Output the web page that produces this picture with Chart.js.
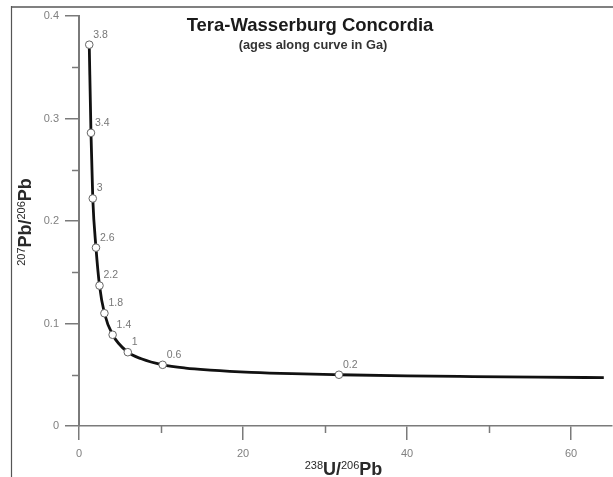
<!DOCTYPE html>
<html>
<head>
<meta charset="utf-8">
<script src="https://cdn.jsdelivr.net/npm/chart.js@4/dist/chart.umd.min.js"></script>
<style>
  html, body { margin: 0; padding: 0; background: #fff; }
  #wrap { width: 613px; height: 477px; position: relative; }
</style>
</head>
<body>
<div id="wrap"><canvas id="c" width="613" height="477"></canvas></div>
<script>
// ---- Data ----
const chartTitle = 'Tera-Wasserburg Concordia';
const chartSubtitle = '(ages along curve in Ga)';

// concordia curve (238U/206Pb, 207Pb/206Pb)
const curveX = [1.25, 1.46, 1.68, 2.07, 2.50, 3.10, 4.10, 5.95, 7.6, 10.2, 13.0, 16.0, 21.0, 26.0, 31.7, 40.0, 48.0, 56.0, 64.0];
const curveY = [0.372, 0.286, 0.222, 0.174, 0.137, 0.110, 0.089, 0.0720, 0.0656, 0.0597, 0.0565, 0.0546, 0.0524, 0.0510, 0.0500, 0.0489, 0.0482, 0.0476, 0.0472];

// age markers along the curve
const ageLabels = ['3.8', '3.4', '3', '2.6', '2.2', '1.8', '1.4', '1', '0.6', '0.2'];
const ageX = [1.25, 1.46, 1.68, 2.07, 2.50, 3.10, 4.10, 5.95, 10.2, 31.7];
const ageY = [0.372, 0.286, 0.222, 0.174, 0.137, 0.110, 0.089, 0.0720, 0.0597, 0.0500];

// axes
const xMin = 0, xMax = 65, xStep = 20, xMinorTicks = [10, 30, 50];
const yMin = 0, yMax = 0.4, yStep = 0.1, yMinorTicks = [0.05, 0.15, 0.25, 0.35];
const xTitleParts = [['238', true], ['U/', false], ['206', true], ['Pb', false]];
const yTitleParts = [['207', true], ['Pb/', false], ['206', true], ['Pb', false]];

const FONT = '"Liberation Sans", Arial, sans-serif';
const AXIS_COLOR = '#7a7a7a';
const LABEL_COLOR = '#808080';

function drawSupText(ctx, parts, cx, baseline) {
  const big = 'bold 18px ' + FONT, small = '11px ' + FONT;
  let w = 0;
  parts.forEach(p => { ctx.font = p[1] ? small : big; w += ctx.measureText(p[0]).width; });
  let x = cx - w / 2;
  ctx.textAlign = 'left';
  ctx.textBaseline = 'alphabetic';
  parts.forEach(p => {
    ctx.font = p[1] ? small : big;
    ctx.fillText(p[0], x, p[1] ? baseline - 6 : baseline);
    x += ctx.measureText(p[0]).width;
  });
}

const decorPlugin = {
  id: 'decor',
  beforeDraw(chart) {
    const ctx = chart.ctx;
    ctx.save();
    ctx.fillStyle = '#fff';
    ctx.fillRect(0, 0, chart.width, chart.height);
    // frame
    ctx.strokeStyle = '#808080';
    ctx.lineWidth = 2;
    ctx.beginPath(); ctx.moveTo(11, 7); ctx.lineTo(chart.width, 7); ctx.stroke();
    ctx.lineWidth = 1.2;
    ctx.strokeStyle = '#555';
    ctx.beginPath(); ctx.moveTo(11.5, 6); ctx.lineTo(11.5, chart.height); ctx.stroke();
    ctx.restore();
  },
  afterDraw(chart) {
    const ctx = chart.ctx;
    const xs = chart.scales.x, ys = chart.scales.y, a = chart.chartArea;
    ctx.save();
    // minor ticks
    ctx.strokeStyle = AXIS_COLOR;
    ctx.lineWidth = 1.5;
    yMinorTicks.forEach(v => {
      const py = Math.round(ys.getPixelForValue(v)) + 0.5;
      ctx.beginPath(); ctx.moveTo(a.left - 7, py); ctx.lineTo(a.left, py); ctx.stroke();
    });
    xMinorTicks.forEach(v => {
      const px = Math.round(xs.getPixelForValue(v)) + 0.5;
      ctx.beginPath(); ctx.moveTo(px, a.bottom); ctx.lineTo(px, a.bottom + 7); ctx.stroke();
    });
    // titles
    ctx.fillStyle = '#1a1a1a';
    ctx.textAlign = 'center';
    ctx.textBaseline = 'middle';
    ctx.font = 'bold 18.5px ' + FONT;
    ctx.fillText(chartTitle, 310, 26);
    ctx.fillStyle = '#333';
    ctx.font = 'bold 12.8px ' + FONT;
    ctx.fillText(chartSubtitle, 313, 45);
    // axis titles
    ctx.fillStyle = '#2a2a2a';
    drawSupText(ctx, xTitleParts, (a.left + a.right) / 2 - 2, 475);
    ctx.save();
    ctx.translate(31, (a.top + a.bottom) / 2 + 1);
    ctx.rotate(-Math.PI / 2);
    drawSupText(ctx, yTitleParts, 0, 0);
    ctx.restore();
    // age labels
    const meta = chart.getDatasetMeta(1);
    ctx.fillStyle = '#777';
    ctx.font = '10.5px ' + FONT;
    ctx.textAlign = 'left';
    ctx.textBaseline = 'middle';
    meta.data.forEach((pt, i) => {
      ctx.fillText(ageLabels[i], pt.x + 4, pt.y - 10);
    });
    ctx.restore();
  }
};

new Chart(document.getElementById('c'), {
  type: 'scatter',
  data: {
    datasets: [
      {
        label: 'Concordia',
        data: curveX.map((x, i) => ({ x, y: curveY[i] })),
        showLine: true,
        borderColor: '#111',
        borderWidth: 2.8,
        pointRadius: 0,
        cubicInterpolationMode: 'monotone',
        fill: false,
        order: 2
      },
      {
        label: 'Ages',
        data: ageX.map((x, i) => ({ x, y: ageY[i] })),
        showLine: false,
        pointRadius: 3.8,
        pointBackgroundColor: '#fff',
        pointBorderColor: '#666',
        pointBorderWidth: 1,
        order: 1
      }
    ]
  },
  options: {
    responsive: false,
    animation: false,
    events: [],
    layout: { autoPadding: false, padding: { top: 16, right: 1, left: 0, bottom: 0 } },
    plugins: { legend: { display: false }, tooltip: { enabled: false }, title: { display: false } },
    scales: {
      x: {
        type: 'linear',
        min: xMin, max: xMax,
        afterFit(s) { s.height = 51; s.paddingLeft = 0; s.paddingRight = 0; },
        border: { display: true, color: AXIS_COLOR, width: 1.5 },
        grid: { drawOnChartArea: false, drawTicks: true, tickLength: 14, color: AXIS_COLOR, lineWidth: 1.5 },
        ticks: { stepSize: xStep, includeBounds: false, color: LABEL_COLOR, font: { family: FONT, size: 11 }, padding: 7, maxRotation: 0 }
      },
      y: {
        type: 'linear',
        min: yMin, max: yMax,
        afterFit(s) { s.width = 79; s.paddingTop = 0; s.paddingBottom = 0; },
        border: { display: true, color: AXIS_COLOR, width: 2 },
        grid: { drawOnChartArea: false, drawTicks: true, tickLength: 14, color: AXIS_COLOR, lineWidth: 1.5 },
        ticks: { stepSize: yStep, includeBounds: false, color: LABEL_COLOR, font: { family: FONT, size: 11 }, padding: 6 }
      }
    }
  },
  plugins: [decorPlugin]
});
</script>
</body>
</html>
